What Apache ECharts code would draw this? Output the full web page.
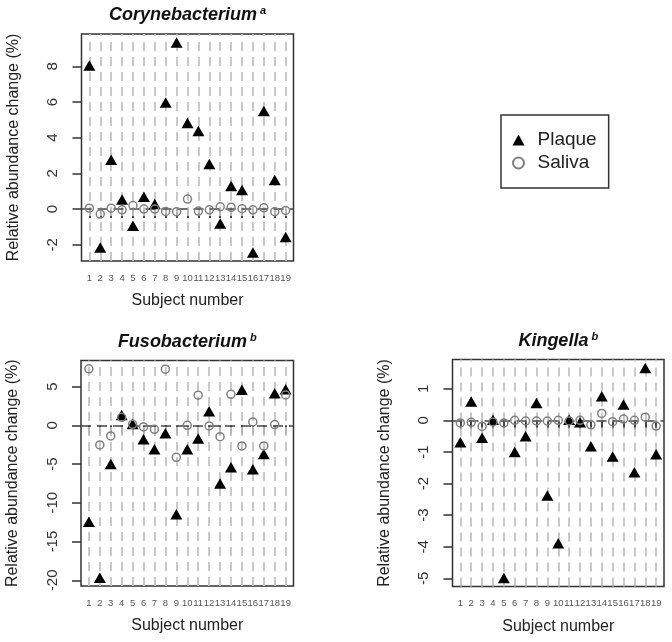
<!DOCTYPE html>
<html>
<head>
<meta charset="utf-8">
<script src="https://cdn.jsdelivr.net/npm/echarts@6/dist/echarts.min.js"></script>
<style>
html,body{margin:0;padding:0;background:#fff;}
#chart{width:672px;height:642px;}
</style>
</head>
<body>
<div id="chart"></div>
<script>
// ---- data ----
const subjects = [1,2,3,4,5,6,7,8,9,10,11,12,13,14,15,16,17,18,19];
const subjectLabels = ['1','2','3','4','5','6','7','8','9','10','11','12','13','14','15','16','17','18','19'];

const corynePlaque = [8.05,-2.15,2.76,0.54,-0.94,0.69,0.28,5.97,9.34,4.82,4.37,2.53,-0.81,1.29,1.07,-2.44,5.5,1.63,-1.56];
const coryneSaliva = [0.05,-0.28,0.05,-0.04,0.2,0.0,0.0,-0.13,-0.15,0.56,-0.11,-0.04,0.13,0.1,0.02,-0.04,0.07,-0.15,-0.08];

const fusoPlaque = [-12.46,-19.66,-5.0,1.34,0.17,-1.81,-3.1,-1.03,-11.47,-3.1,-1.72,1.81,-7.5,-5.43,4.57,-5.69,-3.71,4.14,4.66];
const fusoSaliva = [7.28,-2.54,-1.38,1.03,0.13,-0.22,-0.52,7.24,-4.14,0.0,3.88,-0.09,-1.47,4.0,-2.67,0.43,-2.67,0.09,3.92];

const kingPlaque = [-0.69,0.6,-0.55,0.02,-4.99,-1.0,-0.5,0.55,-2.38,-3.89,0.02,-0.06,-0.82,0.76,-1.14,0.5,-1.64,1.66,-1.07];
const kingSaliva = [-0.08,-0.06,-0.19,-0.05,-0.08,0.0,-0.02,-0.02,-0.02,0.0,-0.02,0.0,-0.14,0.22,-0.04,0.04,0.0,0.1,-0.18];

const coryneTicks = [-2,0,2,4,6,8];
const fusoTicks = [-20,-15,-10,-5,0,5];
const kingTicks = [-5,-4,-3,-2,-1,0,1];

const panelTitles = ['Corynebacterium','Fusobacterium','Kingella'];
const panelSups = ['a','b','b'];
const seriesNames = ['Plaque','Saliva'];
const yTitle = 'Relative abundance change (%)';
const xTitle = 'Subject number';

// ---- layout ----
const FONT = '"Liberation Sans", Arial, Helvetica, sans-serif';
const grids = [
  {left:81.5, top:34, width:212, height:227},
  {left:81, top:360.5, width:212.5, height:225.5},
  {left:452.5, top:359.5, width:211.5, height:227}
];
const panels = [
  {plaque:corynePlaque, saliva:coryneSaliva, ticks:coryneTicks},
  {plaque:fusoPlaque, saliva:fusoSaliva, ticks:fusoTicks},
  {plaque:kingPlaque, saliva:kingSaliva, ticks:kingTicks}
];

function rRange(vals){
  const lo = Math.min(...vals), hi = Math.max(...vals);
  const d = (hi - lo) * 0.04;
  return [lo - d, hi + d];
}
const xr = rRange(subjects);

const option = {
  animation:false,
  backgroundColor:'#fff',
  textStyle:{fontFamily:FONT},
  grid: grids.map(g => Object.assign({show:true, borderColor:'#333', borderWidth:1.5, backgroundColor:'transparent', containLabel:false}, g)),
  title: grids.map((g,i) => ({
    text: '{t|' + panelTitles[i] + '}{s|' + panelSups[i] + '}',
    left: g.left + g.width/2,
    top: g.top - (i === 0 ? 28.5 : 28),
    textAlign:'center',
    padding:0,
    textStyle:{
      rich:{
        t:{fontFamily:FONT, fontSize:18, fontWeight:'bold', fontStyle:'italic', color:'#111', lineHeight:20},
        s:{fontFamily:FONT, fontSize:11, fontWeight:'bold', fontStyle:'italic', color:'#111', lineHeight:11, verticalAlign:'top', padding:[0,0,3,3]}
      }
    }
  })),
  legend:{
    data: seriesNames,
    orient:'vertical',
    left:501, top:115,
    borderColor:'#333', borderWidth:1.5,
    padding:[15,12,15,11],
    itemGap:3,
    itemWidth:12, itemHeight:11,
    selectedMode:false,
    textStyle:{fontFamily:FONT, fontSize:19, color:'#222', lineHeight:20, padding:[0,0,0,8]}
  },
  xAxis: grids.map((g,i) => ({
    type:'value', gridIndex:i, min:xr[0], max:xr[1],
    name:xTitle, nameLocation:'middle', nameGap:32,
    nameTextStyle:{fontFamily:FONT, fontSize:16, color:'#222'},
    axisLine:{show:false},
    splitLine:{show:false},
    axisTick:{show:true, inside:false, length:9, customValues:subjects, lineStyle:{color:'#333', width:1.8}},
    axisLabel:{show:true, margin:12, customValues:subjects, fontSize:9.5, color:'#555', fontFamily:FONT,
      formatter: v => subjectLabels[subjects.indexOf(Math.round(v))]}
  })),
  yAxis: panels.map((p,i) => {
    const yr = rRange(p.plaque.concat(p.saliva));
    return {
      type:'value', gridIndex:i, min:yr[0], max:yr[1],
      name:yTitle, nameLocation:'middle', nameGap:60, nameRotate:90,
      nameTextStyle:{fontFamily:FONT, fontSize:16, color:'#222'},
      axisLine:{show:false},
      splitLine:{show:false},
      axisTick:{show:true, inside:false, length:9, customValues:p.ticks, lineStyle:{color:'#333', width:1.5}},
      axisLabel:{show:true, rotate:90, margin:21, customValues:p.ticks, fontSize:15, color:'#333', fontFamily:FONT,
        formatter: v => String(Math.round(v))}
    };
  }),
  series: []
};

panels.forEach((p,i) => {
  // reference lines
  option.series.push({
    type:'scatter', name:'ref'+i, xAxisIndex:i, yAxisIndex:i, data:[], z:1, silent:true,
    markLine:{
      z:1, silent:true, symbol:['none','none'], animation:false, label:{show:false},
      emphasis:{disabled:true},
      data: subjects.map(s => ({xAxis:s, lineStyle:{color:'#c4c4c4', width:1.8, type:[9,6]}}))
        .concat([{yAxis:0, lineStyle:{color:'#444', width:1.6, type:[10,6]}}])
    }
  });
  option.series.push({
    type:'scatter', name:seriesNames[0], xAxisIndex:i, yAxisIndex:i, z:6,
    symbol:'triangle', symbolSize:[12,10.5],
    itemStyle:{color:'#000', opacity:1},
    data: subjects.map((s,k) => [s, p.plaque[k]])
  });
  option.series.push({
    type:'scatter', name:seriesNames[1], xAxisIndex:i, yAxisIndex:i, z:7,
    symbol:'circle', symbolSize:8,
    itemStyle:{color:'rgba(0,0,0,0)', borderColor:'#808080', borderWidth:1.5, opacity:1},
    data: subjects.map((s,k) => [s, p.saliva[k]])
  });
});

const chart = echarts.init(document.getElementById('chart'), null, {renderer:'canvas'});
chart.setOption(option);
</script>
</body>
</html>
